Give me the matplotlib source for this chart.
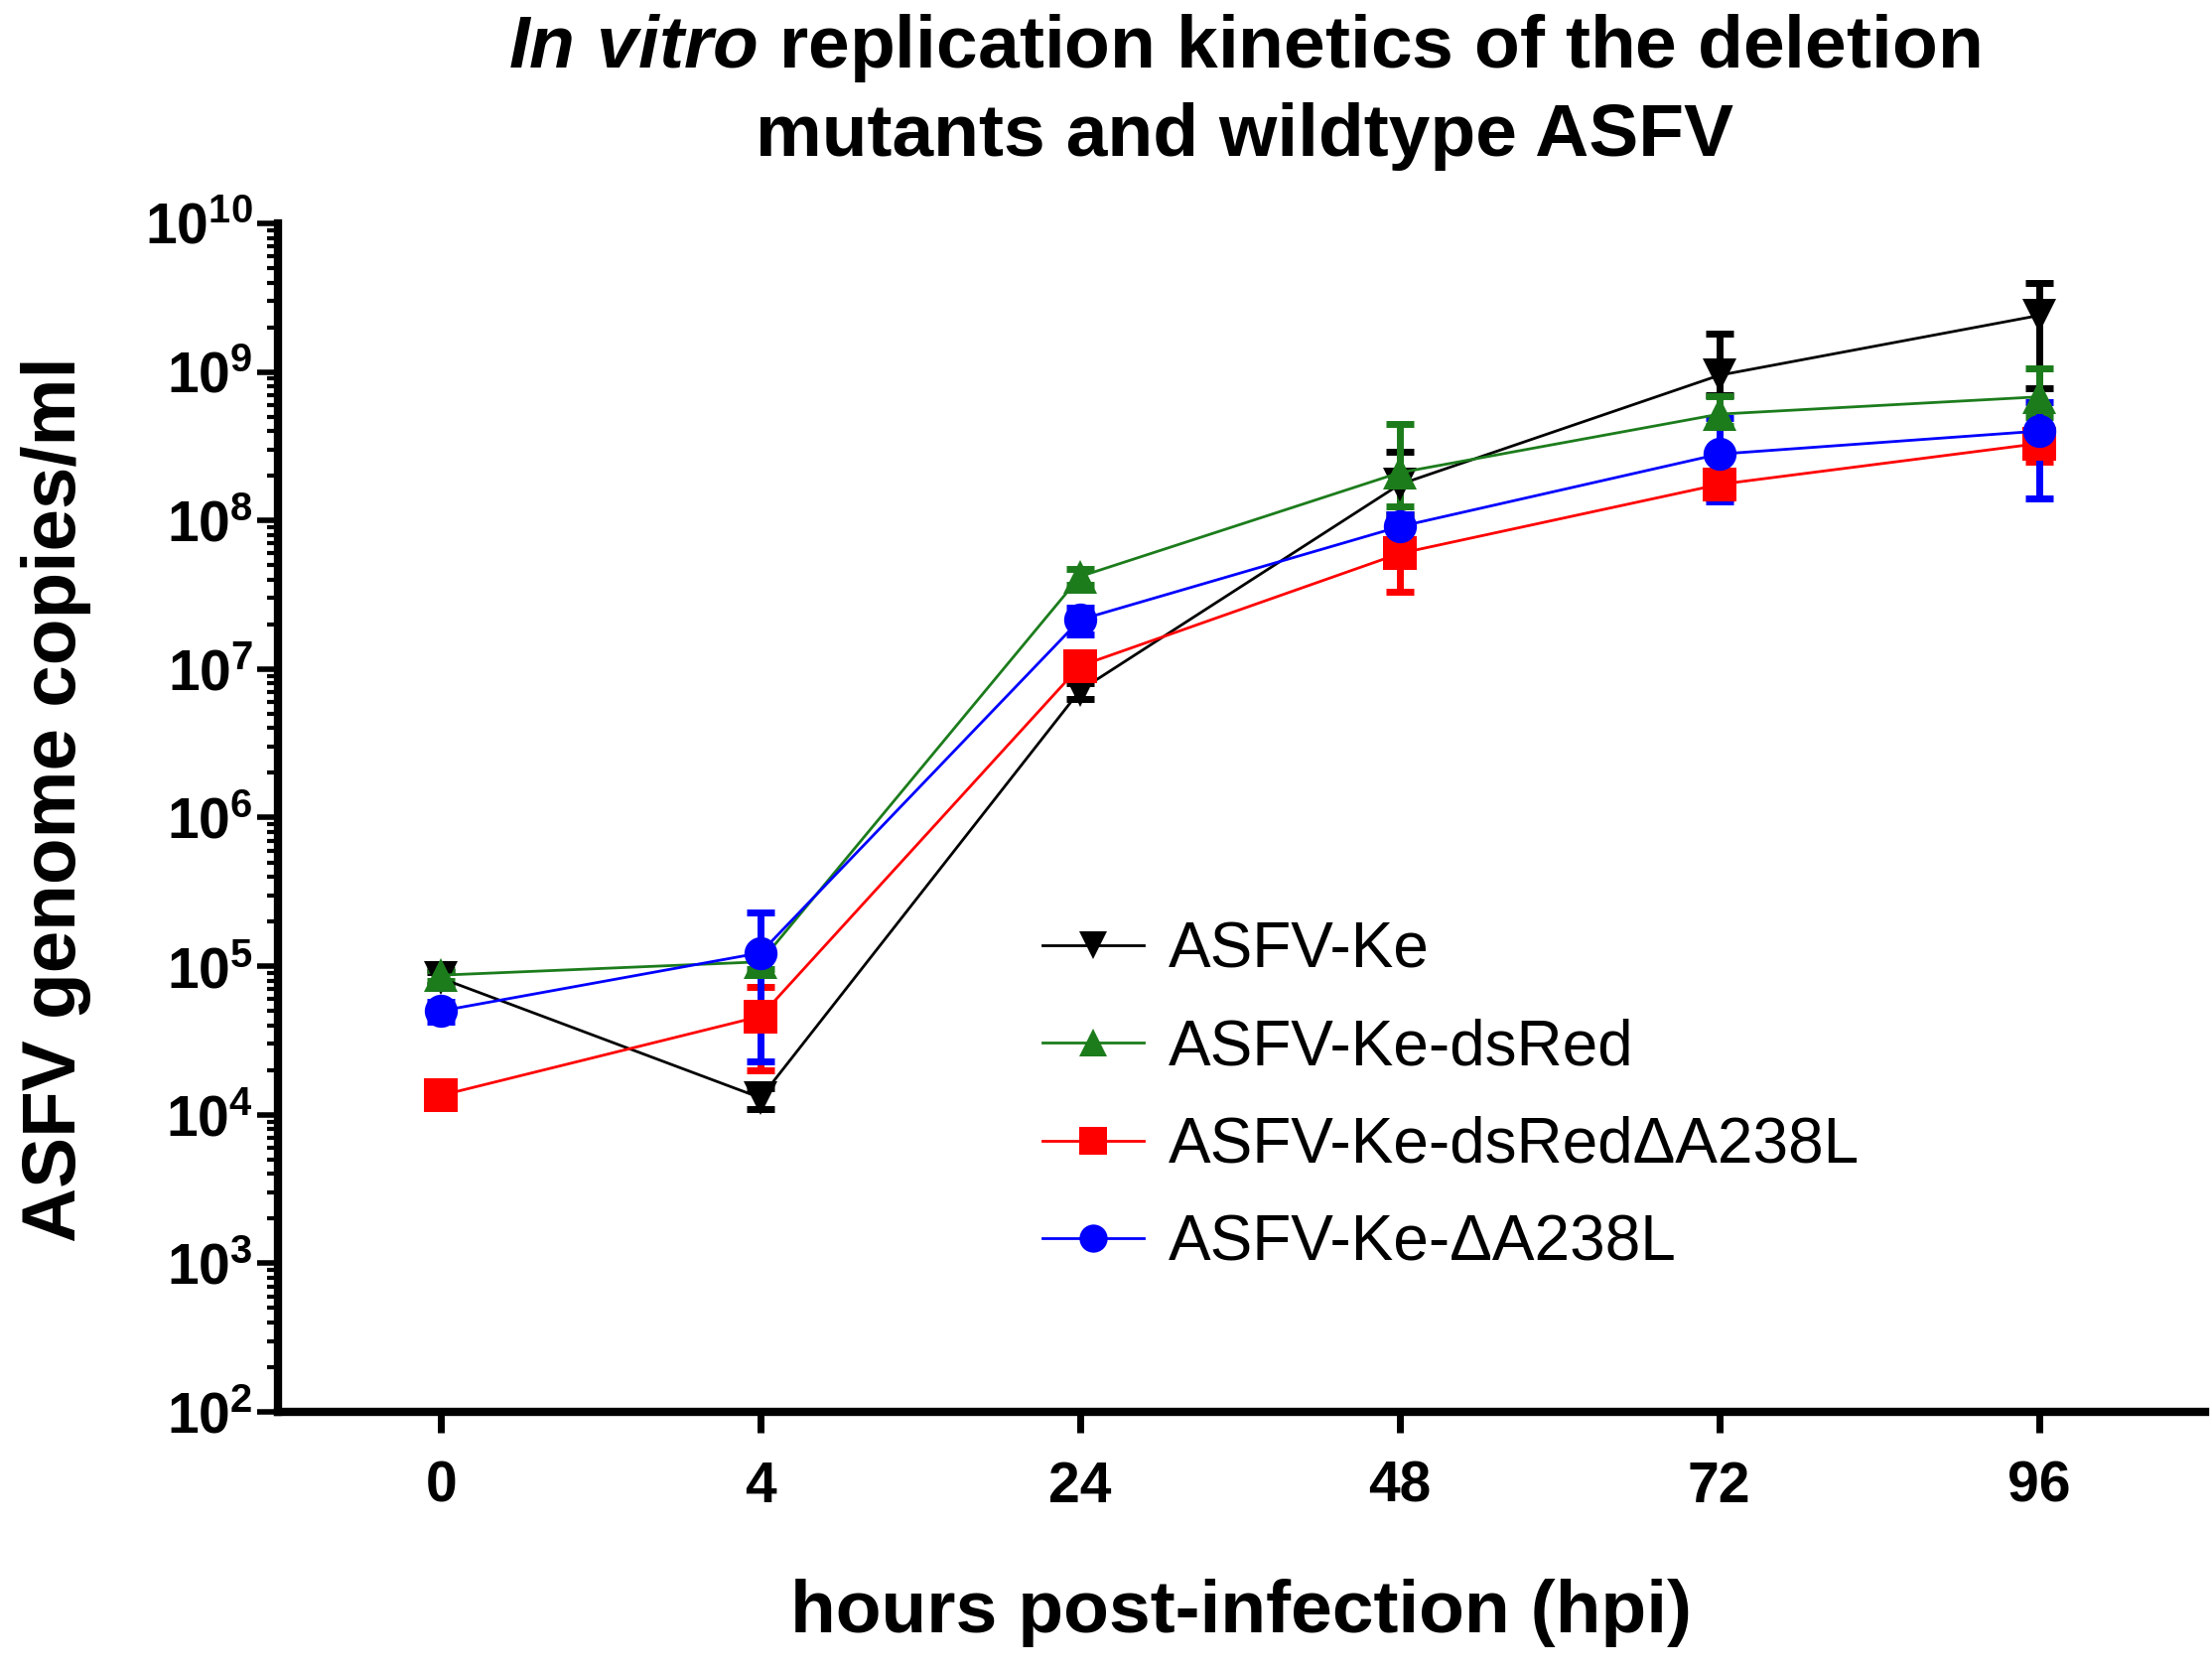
import numpy as np
import matplotlib
matplotlib.use("Agg")
import matplotlib.pyplot as plt
from matplotlib import ticker

plt.rcParams['font.family'] = ['Liberation Sans', 'DejaVu Sans']
plt.rcParams['mathtext.fontset'] = 'custom'
plt.rcParams['mathtext.rm'] = 'Liberation Sans'
plt.rcParams['mathtext.it'] = 'Liberation Sans:italic:bold'
plt.rcParams['mathtext.bf'] = 'Liberation Sans:bold'

# data (genome copies/ml)
hpi = ['0', '4', '24', '48', '72', '96']
labels = ['ASFV-Ke', 'ASFV-Ke-dsRed', 'ASFV-Ke-dsRed\u0394A238L', 'ASFV-Ke-\u0394A238L']

ke_mean = [8.3e4, 1.3e4, 7.2e6, 1.75e8, 9.5e8, 2.4e9]
ke_lo = [7.5e4, 1.1e4, 6.3e6, 1.1e8, 7.0e8, 7.8e8]
ke_hi = [9.2e4, 1.5e4, 8.1e6, 2.9e8, 1.8e9, 4.0e9]

dsred_mean = [8.7e4, 1.07e5, 4.2e7, 2.1e8, 5.2e8, 6.8e8]
dsred_lo = [8.0e4, 9.5e4, 3.7e7, 1.25e8, 4.3e8, 5.0e8]
dsred_hi = [9.4e4, 1.2e5, 4.7e7, 4.5e8, 6.9e8, 1.05e9]

dsred_del_mean = [1.35e4, 4.6e4, 1.05e7, 6.0e7, 1.75e8, 3.3e8]
dsred_del_lo = [1.2e4, 2.0e4, 9.0e6, 3.3e7, 1.4e8, 2.5e8]
dsred_del_hi = [1.5e4, 7.2e4, 1.2e7, 7.5e7, 2.1e8, 4.1e8]

del_mean = [5.0e4, 1.23e5, 2.15e7, 9.1e7, 2.8e8, 4.0e8]
del_lo = [4.2e4, 2.3e4, 1.7e7, 7.5e7, 1.35e8, 1.4e8]
del_hi = [5.8e4, 2.3e5, 2.6e7, 1.1e8, 4.9e8, 6.3e8]

series = [
    (ke_mean, ke_lo, ke_hi, '#000000', 'v'),
    (dsred_mean, dsred_lo, dsred_hi, '#1c7c1c', '^'),
    (dsred_del_mean, dsred_del_lo, dsred_del_hi, '#ff0000', 's'),
    (del_mean, del_lo, del_hi, '#0000ff', 'o'),
]

W, H = 2228, 1685
fig = plt.figure(figsize=(W / 100, H / 100), dpi=100)
ax = fig.add_axes([280 / W, 263 / H, 1941 / W, 1197 / H])

x = np.arange(len(hpi))
handles = []
for (m, lo, hi, col, mk), lab in zip(series, labels):
    m = np.array(m)
    yerr = [m - np.array(lo), np.array(hi) - m]
    cont = ax.errorbar(x, m, yerr=yerr, color=col, marker=mk, markersize=24,
                       lw=2, elinewidth=5, capsize=10, capthick=5, label=lab)
    cont.lines[0].set_markeredgewidth(0)
    handles.append(cont.lines[0])

ax.set_yscale('log')
ax.set_ylim(1e2, 1e10)
ax.set_xlim(-0.51, 5.52)
ax.set_xticks(x)
ax.set_xticklabels(hpi)

ax.yaxis.set_major_locator(ticker.FixedLocator([10.0 ** k for k in range(2, 11)]))
ax.yaxis.set_major_formatter(ticker.FuncFormatter(lambda v, p: r'$\mathbf{10^{%d}}$' % round(np.log10(v))))
ax.yaxis.set_minor_locator(ticker.LogLocator(base=10, subs=np.arange(2, 10), numticks=30))
ax.yaxis.set_minor_formatter(ticker.NullFormatter())

for s in ['top', 'right']:
    ax.spines[s].set_visible(False)
for s in ['left', 'bottom']:
    ax.spines[s].set_linewidth(6)

ax.tick_params(axis='y', which='major', length=15, width=4, pad=3, labelsize=41)
ax.tick_params(axis='y', which='minor', length=8, width=3)
ax.tick_params(axis='x', which='major', length=15, width=5, pad=20, labelsize=41)
for t in ax.get_xticklabels():
    t.set_fontweight('bold')

ax.set_xlabel('hours post-infection (hpi)', fontsize=54, fontweight='bold')
ax.xaxis.set_label_coords(0.5, -0.14)
ax.set_ylabel('ASFV genome copies/ml', fontsize=55, fontweight='bold')
ax.yaxis.set_label_coords(-0.097, 0.515)

fig.text(0.5624, 1 - 68 / H, r'$\mathit{In\ vitro}$ replication kinetics of the deletion',
         ha='center', va='baseline', fontsize=54, fontweight='bold')
fig.text(0.5624, 1 - 157 / H, 'mutants and wildtype ASFV',
         ha='center', va='baseline', fontsize=54, fontweight='bold')

ax.legend(handles, labels, loc='upper left', bbox_to_anchor=(0.38, 0.44),
          frameon=False, fontsize=46, handlelength=1.6, handletextpad=0.4,
          labelspacing=0.6, borderpad=0, markerscale=0.85)

fig.savefig('out.png', dpi=100)
